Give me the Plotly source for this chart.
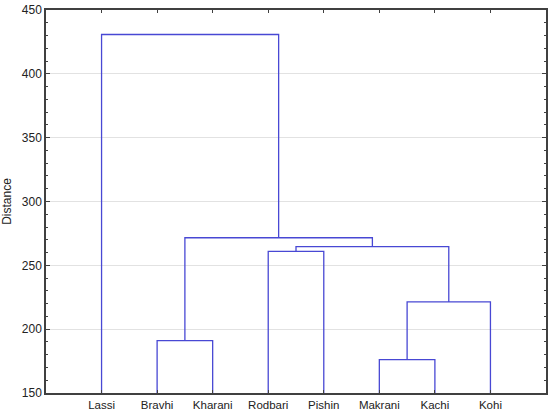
import plotly.graph_objects as go

# leaves in display order
leaves = ["Lassi", "Bravhi", "Kharani", "Rodbari", "Pishin", "Makrani", "Kachi", "Kohi"]

# merges: (left cluster, right cluster, distance); new clusters get ids 8, 9, ...
merge_left = [5, 1, 8, 3, 11, 9, 13]
merge_right = [6, 2, 7, 4, 10, 12, 0]
merge_height = [176.2, 191.0, 221.3, 261.0, 264.7, 271.6, 430.8]

# position / height of every cluster (leaves sit at 0..7, height 150 = axis floor)
pos = {i: float(i) for i in range(len(leaves))}
hgt = {i: 150.0 for i in range(len(leaves))}

xs, ys = [], []
for k, (a, b, h) in enumerate(zip(merge_left, merge_right, merge_height)):
    xs += [pos[a], pos[a], pos[b], pos[b], None]
    ys += [hgt[a], h, h, hgt[b], None]
    cid = len(leaves) + k
    pos[cid] = (pos[a] + pos[b]) / 2
    hgt[cid] = h

fig = go.Figure()
fig.add_trace(go.Scatter(
    x=xs, y=ys, mode="lines",
    line=dict(color="#4848d4", width=1.3),
    hoverinfo="skip", showlegend=False,
))

axis_col = "#404040"
fig.update_layout(
    width=550, height=412,
    margin=dict(l=46, r=4, t=10, b=19),
    paper_bgcolor="white", plot_bgcolor="white",
    font=dict(family="Liberation Sans, Arial, sans-serif", size=12, color="#222222"),
    xaxis=dict(
        range=[-1, 8], tickvals=list(range(len(leaves))), ticktext=leaves,
        showgrid=False, zeroline=False, automargin=False,
        showline=True, linecolor=axis_col, linewidth=1.5, mirror="allticks",
        ticks="inside", ticklen=3, tickcolor=axis_col,
        tickfont=dict(size=11.5),
    ),
    yaxis=dict(
        range=[150, 450], dtick=50, automargin=False,
        title=dict(text="Distance", standoff=10, font=dict(size=12)),
        showgrid=True, gridcolor="#e2e2e2", gridwidth=1, zeroline=False,
        showline=True, linecolor=axis_col, linewidth=1.5, mirror="allticks",
        ticks="inside", ticklen=4, tickcolor=axis_col,
        minor=dict(dtick=10, ticks="inside", ticklen=2, tickcolor=axis_col, showgrid=False),
        tickfont=dict(size=12),
    ),
)

# page body has a default 8px margin, drop it so the figure sits at 0,0
fig.write_html("out.html", config={"displayModeBar": False},
               post_script="document.body.style.margin='0';")
